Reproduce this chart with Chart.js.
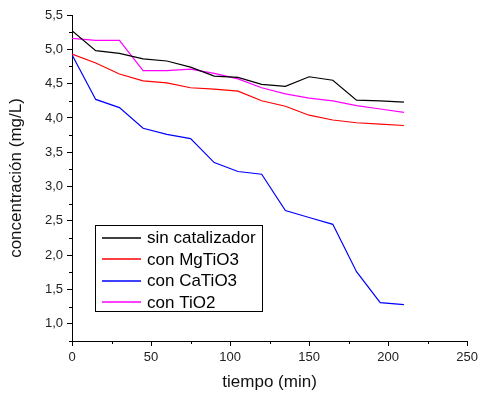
<!DOCTYPE html>
<html>
<head>
<meta charset="utf-8">
<script src="https://cdn.jsdelivr.net/npm/chart.js@4"></script>
<style>
  html, body { margin: 0; padding: 0; background: #fff; }
  #wrap { width: 482px; height: 395px; }
</style>
</head>
<body>
<div id="wrap"><canvas id="chart" width="482" height="395"></canvas></div>
<script>
const tiempo = [0, 15, 30, 45, 60, 75, 90, 105, 120, 135, 150, 165, 180, 195, 210];
const sinCatalizador = [5.27, 4.98, 4.94, 4.86, 4.83, 4.74, 4.61, 4.59, 4.49, 4.46, 4.60, 4.55, 4.26, 4.25, 4.23];
const conMgTiO3 = [4.93, 4.80, 4.64, 4.54, 4.51, 4.44, 4.42, 4.39, 4.25, 4.17, 4.04, 3.97, 3.93, 3.91, 3.89];
const conCaTiO3 = [4.92, 4.27, 4.15, 3.85, 3.76, 3.70, 3.35, 3.22, 3.18, 2.65, 2.55, 2.45, 1.76, 1.31, 1.28];
const conTiO2 = [5.16, 5.13, 5.13, 4.69, 4.69, 4.71, 4.65, 4.57, 4.44, 4.35, 4.29, 4.25, 4.18, 4.13, 4.08];

const seriesNames = ["sin catalizador", "con MgTiO3", "con CaTiO3", "con TiO2"];
const seriesColors = ["#000000", "#ff0000", "#0000ff", "#ff00ff"];

const xTicks = [0, 50, 100, 150, 200, 250];
const xMinor = [25, 75, 125, 175, 225];
const yTicks = [1.0, 1.5, 2.0, 2.5, 3.0, 3.5, 4.0, 4.5, 5.0, 5.5];
const yMinor = [0.75, 1.25, 1.75, 2.25, 2.75, 3.25, 3.75, 4.25, 4.75, 5.25];

const FONT = "'Liberation Sans', Arial, sans-serif";

const series = [sinCatalizador, conMgTiO3, conCaTiO3, conTiO2];
const datasets = series.map((vals, i) => ({
    label: seriesNames[i],
    data: tiempo.map((t, j) => ({ x: t, y: vals[j] })),
    borderColor: seriesColors[i],
    backgroundColor: seriesColors[i],
    borderWidth: 1.2,
    pointRadius: 0,
    tension: 0,
    fill: false
}));

// minor ticks and legend box drawn on top
const extras = {
    id: "extras",
    afterDraw(chart) {
        const ctx = chart.ctx;
        const xs = chart.scales.x, ys = chart.scales.y;
        ctx.save();
        ctx.strokeStyle = "#000";
        ctx.lineWidth = 1;
        ctx.beginPath();
        xMinor.forEach(v => {
            const px = Math.round(xs.getPixelForValue(v)) + 0.5;
            ctx.moveTo(px, ys.bottom);
            ctx.lineTo(px, ys.bottom + 3);
        });
        yMinor.forEach(v => {
            const py = Math.round(ys.getPixelForValue(v)) + 0.5;
            ctx.moveTo(xs.left - 3, py);
            ctx.lineTo(xs.left, py);
        });
        ctx.stroke();

        // legend
        const bx = 95.5, by = 225.5, bw = 167, bh = 86;
        ctx.fillStyle = "#fff";
        ctx.fillRect(bx, by, bw, bh);
        ctx.strokeStyle = "#000";
        ctx.strokeRect(bx, by, bw, bh);
        ctx.font = "17px " + FONT;
        ctx.textBaseline = "middle";
        chart.data.datasets.forEach((ds, i) => {
            const cy = 237.5 + i * 21.5;
            ctx.beginPath();
            ctx.strokeStyle = ds.borderColor;
            ctx.lineWidth = 1.5;
            ctx.moveTo(102, Math.round(cy));
            ctx.lineTo(141, Math.round(cy));
            ctx.stroke();
            ctx.fillStyle = "#000";
            ctx.fillText(ds.label, 147, cy + 1);
        });
        ctx.restore();
    }
};

new Chart(document.getElementById("chart"), {
    type: "line",
    data: { datasets },
    options: {
        responsive: false,
        animation: false,
        layout: { padding: { top: 15, right: 13, left: 0, bottom: 0 } },
        plugins: { legend: { display: false }, tooltip: { enabled: false } },
        scales: {
            x: {
                type: "linear",
                min: 0,
                max: 250,
                afterBuildTicks: s => { s.ticks = xTicks.map(v => ({ value: v })); },
                afterFit: s => { s.height = 54; },
                border: { display: true, color: "#000", width: 1 },
                grid: { drawOnChartArea: false, drawTicks: true, tickLength: 5, color: "#000" },
                ticks: { color: "#222", font: { family: FONT, size: 13 }, padding: 4, maxRotation: 0 },
                title: { display: true, text: "tiempo (min)", color: "#111", font: { family: FONT, size: 17 }, padding: { top: 0, bottom: 2 } }
            },
            y: {
                min: 0.75,
                max: 5.5,
                afterBuildTicks: s => { s.ticks = yTicks.map(v => ({ value: v })); },
                afterFit: s => { s.width = 72; },
                border: { display: true, color: "#000", width: 1 },
                grid: { drawOnChartArea: false, drawTicks: true, tickLength: 5, color: "#000" },
                ticks: {
                    color: "#222",
                    font: { family: FONT, size: 13 },
                    padding: 4,
                    callback: v => v.toFixed(1).replace(".", ",")
                },
                title: { display: true, text: "concentración (mg/L)", color: "#111", font: { family: FONT, size: 17 }, padding: { top: 6, bottom: 0 } }
            }
        }
    },
    plugins: [extras]
});
</script>
</body>
</html>
